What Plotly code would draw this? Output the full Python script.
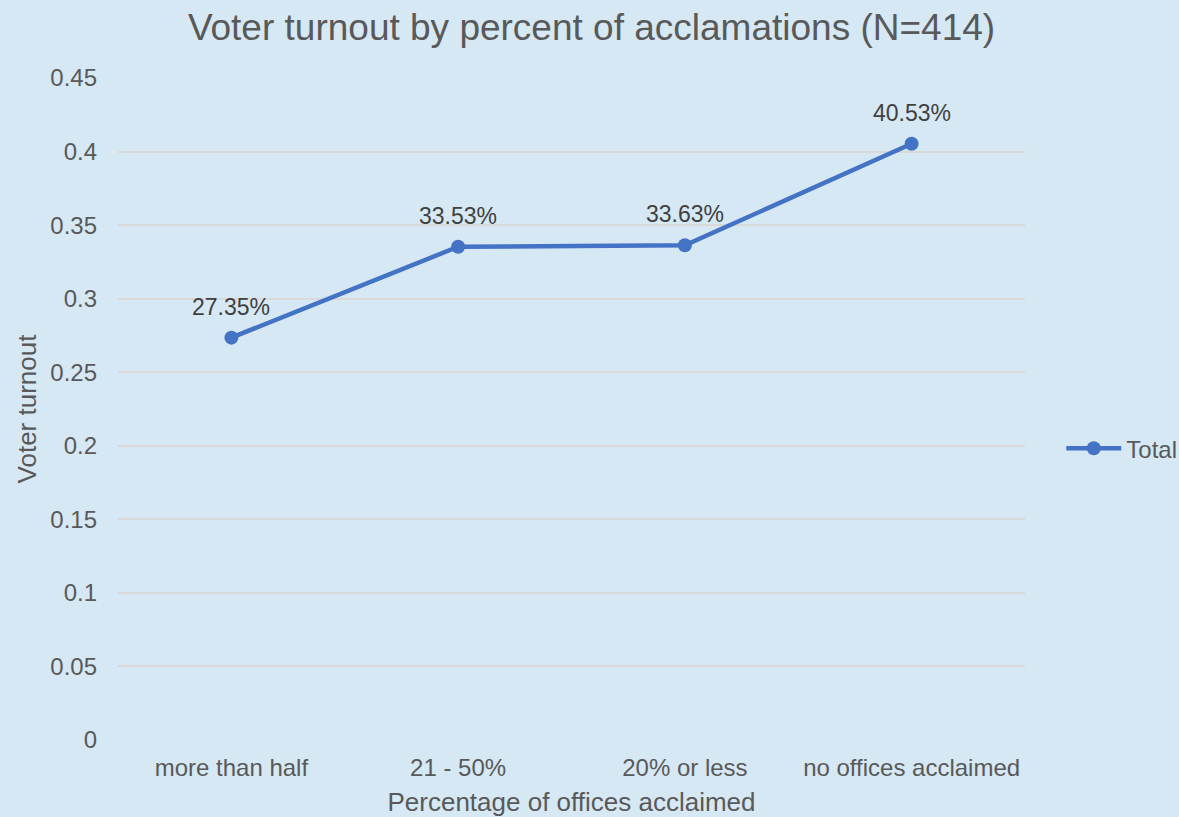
import plotly.graph_objects as go

categories = ["more than half", "21 - 50%", "20% or less", "no offices acclaimed"]
turnout = [0.2735, 0.3353, 0.3363, 0.4053]
labels = ["27.35%", "33.53%", "33.63%", "40.53%"]
y_ticks = [0, 0.05, 0.1, 0.15, 0.2, 0.25, 0.3, 0.35, 0.4, 0.45]
y_tick_text = ["0", "0.05", "0.1", "0.15", "0.2", "0.25", "0.3", "0.35", "0.4", "0.45"]

bg = "#D5E8F4"
txt = "#595959"
font_family = "Liberation Sans, Arial, sans-serif"

fig = go.Figure()
fig.add_trace(go.Scatter(
    x=categories, y=turnout, name="Total",
    mode="lines+markers",
    line=dict(color="#4472C4", width=4.5),
    marker=dict(color="#4472C4", size=14),
))

for c, v, t in zip(categories, turnout, labels):
    fig.add_annotation(x=c, y=v, text=t, showarrow=False, yshift=31,
                       font=dict(size=23, color="#404040", family=font_family))

fig.update_layout(
    width=1179, height=817,
    paper_bgcolor=bg, plot_bgcolor=bg,
    margin=dict(l=118, r=154, t=78, b=77, autoexpand=False),
    font=dict(family=font_family, color=txt, size=24),
    title=dict(text="Voter turnout by percent of acclamations (N=414)",
               x=591.5 / 1179, xanchor="center", y=1 - 27 / 817, yanchor="middle",
               xref="container", yref="container",
               font=dict(size=37, color=txt)),
    showlegend=True,
    legend=dict(x=1.04, y=0.44, xanchor="left", yanchor="middle",
                font=dict(size=24, color=txt), bgcolor="rgba(0,0,0,0)",
                itemwidth=55),
    xaxis=dict(
        title=dict(text="Percentage of offices acclaimed", font=dict(size=26, color=txt), standoff=20),
        range=[-0.5, 3.5],
        showgrid=False, zeroline=False, showline=False,
        tickfont=dict(size=24, color=txt), ticks="",
    ),
    yaxis=dict(
        title=dict(text="Voter turnout", font=dict(size=26, color=txt), standoff=6),
        range=[0, 0.45], tickvals=y_ticks, ticktext=y_tick_text,
        showgrid=True, gridcolor="#D9D9D9", gridwidth=1.5,
        zeroline=False, showline=False, ticks="",
        tickfont=dict(size=24, color=txt),
    ),
)
fig.update_xaxes(ticklabelstandoff=11)
fig.update_yaxes(ticklabelstandoff=20)

fig.write_html("out.html", config={"displayModeBar": False},
               post_script="document.body.style.margin='0';document.body.style.padding='0';")
